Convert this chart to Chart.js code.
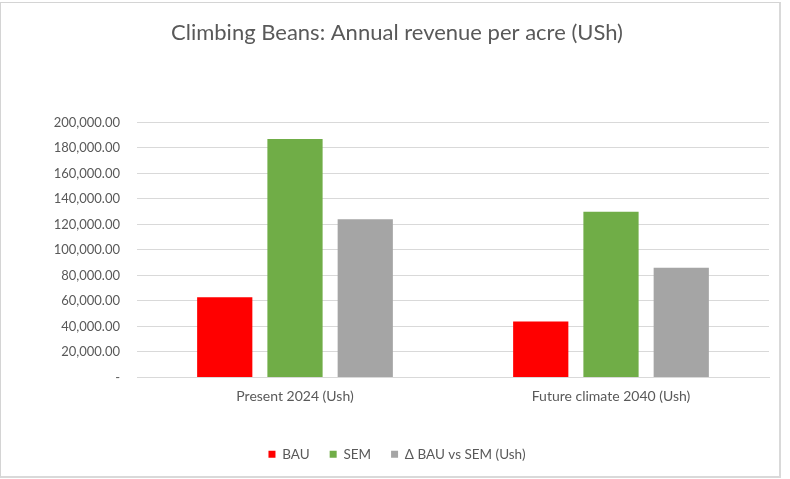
<!DOCTYPE html>
<html>
<head>
<meta charset="utf-8">
<script src="https://cdn.jsdelivr.net/npm/chart.js@4"></script>
<style>
  html, body { margin: 0; padding: 0; background: #fff; }
  #wrap { position: relative; width: 790px; height: 479px; }
  #frame {
    position: absolute; left: 0; top: 2px; width: 781px; height: 476px;
    border: 1px solid #d4d4d4; border-right: 2px solid #d9d9d9; border-bottom: 2px solid #d9d9d9;
    box-sizing: border-box; pointer-events: none;
  }
</style>
</head>
<body>
<div id="wrap">
  <canvas id="chart" width="790" height="479"></canvas>
  <div id="frame"></div>
</div>
<script>
// data
const categories = ["Present 2024 (Ush)", "Future climate 2040 (Ush)"];
const bau = [63000, 44000];
const sem = [187000, 130000];
const delta = [124000, 86000];
const seriesNames = ["BAU", "SEM", "\u0394 BAU vs SEM (Ush)"];
const seriesColors = ["#ff0000", "#70ad47", "#a5a5a5"];

const textColor = "#595959";
const fontFamily = "Lato, 'Open Sans', sans-serif";

const ctx = document.getElementById("chart").getContext("2d");

new Chart(ctx, {
  type: "bar",
  data: {
    labels: categories,
    datasets: [bau, sem, delta].map((values, i) => ({
      label: seriesNames[i],
      data: values,
      backgroundColor: seriesColors[i],
      borderWidth: 0,
      barPercentage: 0.786,
      categoryPercentage: 0.667,
    })),
  },
  options: {
    responsive: false,
    animation: false,
    layout: { padding: { left: 25, right: 21, top: 0, bottom: 8 } },
    plugins: {
      title: {
        display: true,
        text: "Climbing Beans: Annual revenue per acre (USh)",
        color: textColor,
        font: { family: fontFamily, size: 22, weight: "normal" },
        padding: { top: 20, bottom: 76 },
      },
      legend: {
        position: "bottom",
        labels: {
          color: textColor,
          font: { family: fontFamily, size: 13.5 },
          boxWidth: 7,
          boxHeight: 7,
          padding: 20,
        },
      },
      tooltip: { enabled: false },
    },
    scales: {
      x: {
        grid: { display: false, drawTicks: false },
        border: { display: true, color: "#d9d9d9" },
        ticks: { color: textColor, font: { family: fontFamily, size: 14 }, padding: 11 },
        afterFit: (scale) => { scale.height = 50; },
      },
      y: {
        min: 0,
        max: 200000,
        grid: { color: "#d9d9d9", drawTicks: false },
        border: { display: false },
        ticks: {
          stepSize: 20000,
          color: textColor,
          font: { family: fontFamily, size: 13 },
          padding: 17,
          callback: (v) =>
            v === 0 ? "-" : v.toLocaleString("en-US", { minimumFractionDigits: 2, maximumFractionDigits: 2 }),
        },
        afterFit: (scale) => { scale.width = 112; },
      },
    },
  },
});
</script>
</body>
</html>
